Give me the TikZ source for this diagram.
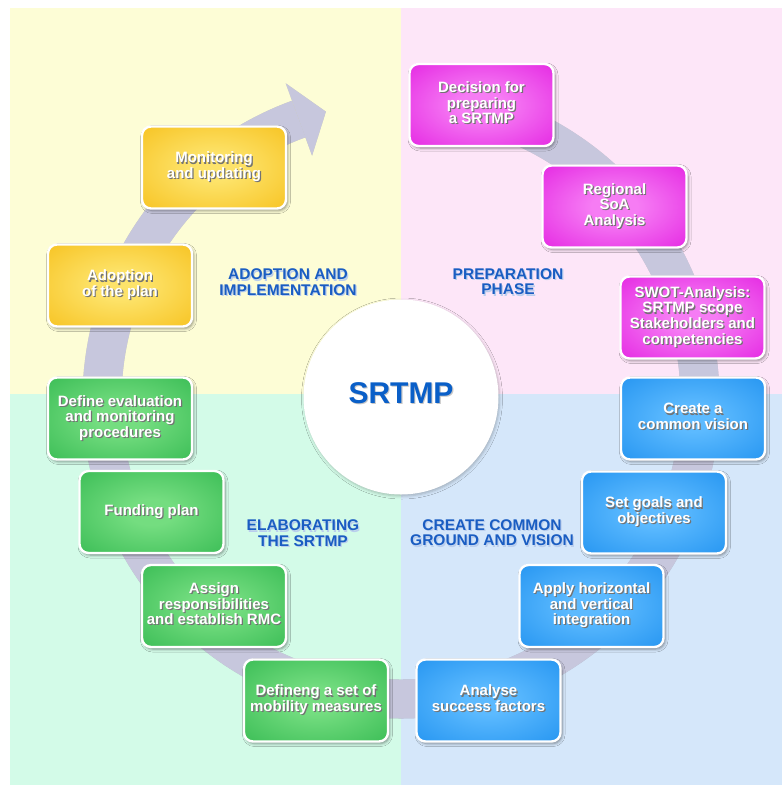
\documentclass[tikz,border=0pt]{standalone}
\usepackage{fontspec}
\setmainfont{Liberation Sans}
\usetikzlibrary{shadows.blur}

% quadrant backgrounds
\definecolor{bgY}{HTML}{FDFDD6}
\definecolor{bgP}{HTML}{FDE6F8}
\definecolor{bgG}{HTML}{D3FBE8}
\definecolor{bgB}{HTML}{D5E7FA}
% cycle band and labels
\definecolor{bandcol}{HTML}{C7C7DD}
\definecolor{phasecol}{HTML}{1A5DC2}
\definecolor{hubcol}{HTML}{0A5FC8}
% box gradients
\definecolor{yIn}{HTML}{FDE36A}
\definecolor{yOut}{HTML}{F4B400}
\definecolor{mIn}{HTML}{F67CF4}
\definecolor{mOut}{HTML}{DC00DA}
\definecolor{bIn}{HTML}{5CBAFF}
\definecolor{bOut}{HTML}{0C84EA}
\definecolor{gIn}{HTML}{74DD80}
\definecolor{gOut}{HTML}{20AE42}

\pgfdeclareradialshading{shadeY}{\pgfpointorigin}{color(0bp)=(yIn); color(8bp)=(yIn); color(50bp)=(yOut); color(100bp)=(yOut)}
\pgfdeclareradialshading{shadeM}{\pgfpointorigin}{color(0bp)=(mIn); color(8bp)=(mIn); color(50bp)=(mOut); color(100bp)=(mOut)}
\pgfdeclareradialshading{shadeB}{\pgfpointorigin}{color(0bp)=(bIn); color(8bp)=(bIn); color(50bp)=(bOut); color(100bp)=(bOut)}
\pgfdeclareradialshading{shadeG}{\pgfpointorigin}{color(0bp)=(gIn); color(8bp)=(gIn); color(50bp)=(gOut); color(100bp)=(gOut)}

% centred lines of text with a soft offset shadow behind them
\newcommand\shtxt[2][black!55]{%
  \rlap{\raisebox{-1.2pt}[0pt][0pt]{\hspace{1.2pt}\color{#1}\begin{tabular}{@{}c@{}}#2\end{tabular}}}%
  \begin{tabular}{@{}c@{}}#2\end{tabular}}

\tikzset{
  stepbox/.style={rectangle, rounded corners=9pt, draw=white, line width=2.4pt,
    minimum width=144pt, minimum height=82pt, inner sep=0pt, text=white,
    font=\fontsize{15}{15.6}\selectfont\bfseries,
    blur shadow={shadow xshift=1.5pt, shadow yshift=-2pt, shadow blur radius=3pt, shadow opacity=45}},
  stepY/.style={stepbox, shading=shadeY},
  stepM/.style={stepbox, shading=shadeM},
  stepB/.style={stepbox, shading=shadeB},
  stepG/.style={stepbox, shading=shadeG},
  phase/.style={text=phasecol, inner sep=0pt, font=\fontsize{15.5}{15.5}\selectfont\bfseries},
}

\begin{document}
\begin{tikzpicture}[x=1pt,y=1pt]
  \useasboundingbox (0,0) rectangle (782,-785);
  \fill[white] (0,0) rectangle (782,-785);

  % four phase quadrants
  \fill[bgY] (10,-8) rectangle (401,-394);
  \fill[bgP] (401,-8) rectangle (782,-394);
  \fill[bgG] (10,-394) rectangle (401,-785);
  \fill[bgB] (401,-394) rectangle (782,-785);

  % cycle band with arrowhead
  \coordinate (c) at (401,-400);
  \begin{scope}[shift={(2.5,-2.5)}, black, opacity=0.18]
    \draw[line width=39pt] ([shift={(88:299)}]c) arc[start angle=88, end angle=-250, radius=299];
    \fill[shift={(c)}] (110:337) -- (104.6:298) -- (110:260) -- cycle;
  \end{scope}
  \draw[bandcol, line width=39pt] ([shift={(88:299)}]c) arc[start angle=88, end angle=-250, radius=299];
  \fill[bandcol, shift={(c)}] (110:337) -- (104.6:298) -- (110:260) -- cycle;

  % central hub
  \node[circle, fill=white, minimum size=195pt, inner sep=0pt, text=hubcol,
        font=\fontsize{30}{30}\selectfont\bfseries,
        blur shadow={shadow xshift=1pt, shadow yshift=-1.5pt, shadow blur radius=3pt, shadow opacity=25}]
        (hub) at (401,-397) {\shtxt[black!22]{SRTMP}};

  % preparation phase
  \node[stepM] (decision) at (481.5,-105) {\shtxt{Decision for\\preparing\\a SRTMP}};
  \node[stepM] (soa)      at (614.5,-206.5) {\shtxt{Regional\\SoA\\Analysis}};
  \node[stepM] (swot)     at (692.5,-317.5) {\shtxt{SWOT-Analysis:\\SRTMP scope\\Stakeholders and\\competencies}};

  % common ground and vision
  \node[stepB] (vision)   at (693,-418.5) {\shtxt{Create a\\common vision}};
  \node[stepB] (goals)    at (654,-512.5) {\shtxt{Set goals and\\objectives}};
  \node[stepB] (integr)   at (591.5,-606) {\shtxt{Apply horizontal\\and vertical\\integration}};
  \node[stepB] (success)  at (488.5,-700.5) {\shtxt{Analyse\\success factors}};

  % elaborating the plan
  \node[stepG] (measures) at (316,-700.5) {\shtxt{Defineng a set of\\mobility measures}};
  \node[stepG] (assign)   at (214,-606) {\shtxt{Assign\\responsibilities\\and establish RMC}};
  \node[stepG] (funding)  at (151.5,-512) {\shtxt{Funding plan}};
  \node[stepG] (evalproc) at (120,-418.5) {\shtxt{Define evaluation\\and monitoring\\procedures}};

  % adoption and implementation
  \node[stepY] (adoption) at (120,-285.5) {\shtxt{Adoption\\of the plan}};
  \node[stepY] (monitor)  at (214,-167.5) {\shtxt{Monitoring\\and updating}};

  % phase captions
  \node[phase] (pAdopt) at (288,-284.5) {\shtxt[phasecol!30!white]{ADOPTION AND\\IMPLEMENTATION}};
  \node[phase] (pPrep)  at (508,-284) {\shtxt[phasecol!30!white]{PREPARATION\\PHASE}};
  \node[phase] (pElab)  at (303,-535.5) {\shtxt[phasecol!30!white]{ELABORATING\\THE SRTMP}};
  \node[phase] (pCommon) at (492,-535) {\shtxt[phasecol!30!white]{CREATE COMMON\\GROUND AND VISION}};
\end{tikzpicture}
\end{document}
